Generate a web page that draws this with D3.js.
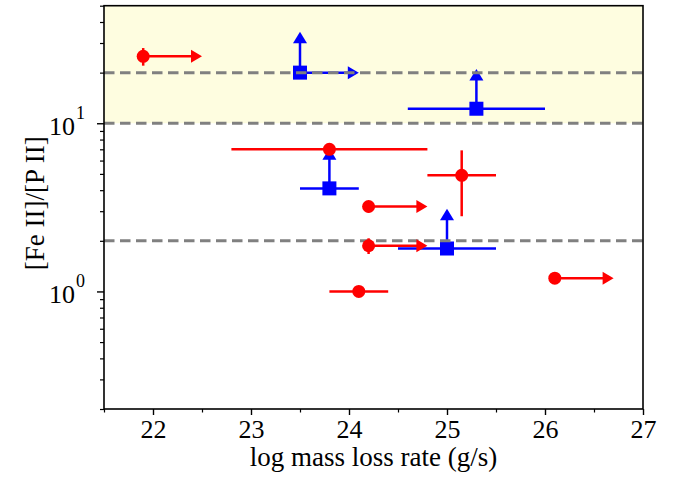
<!DOCTYPE html>
<html><head><meta charset="utf-8">
<script src="https://cdn.jsdelivr.net/npm/d3@7"></script>
<style>body{margin:0;background:#fff}svg{display:block}text{font-family:"Liberation Serif","Times New Roman",serif;fill:#000}</style>
</head><body><svg id="c" width="675" height="487"></svg>
<script>
// ---- data ----
const xTicks = [22, 23, 24, 25, 26, 27];
const xMinor = [21.5, 22.5, 23.5, 24.5, 25.5, 26.5];
const yMajor = [1, 10];
const yMajorExp = ["0", "1"];
const yMinor = [0.2,0.3,0.4,0.5,0.6,0.7,0.8,0.9,2,3,4,5,6,7,8,9,20,30,40,50];
const refLines = [20, 10, 2];
const bandRange = [10, 50];
// red circles
const redX    = [21.9, 23.8, 24.2, 24.2, 24.1, 25.15, 26.1];
const redY    = [25,   7.0,  3.2,  1.87, 1.0,  4.9,  1.2];
const redXerr = [0,    1.0,  0,    0,    0.3,  0.35, 0];
const redYlo  = [22,   7.0,  2.95, 1.67, 1.0,  2.8,  1.2];
const redYhi  = [28,   7.0,  3.45, 2.07, 1.0,  6.9,  1.2];
const redXarrow = [22.5, null, 24.8, 24.8, null, null, 26.7];
// blue squares
const blueX    = [23.5, 23.8, 25.3, 25.0];
const blueY    = [20,   4.1,  12.2, 1.8];
const blueXerr = [0,    0.3,  0.7,  0.5];
const blueXarrow = [24.1, null, null, null];
const blueYarrow = [35,  7.1,  21,   3.1];

// ---- layout ----
const L = 104, R = 643, T = 5.7, B = 409;
const svg = d3.select("#c");
const x = d3.scaleLinear().domain([21.5, 27]).range([L, R]);
const y = d3.scaleLog().domain([0.2, 50]).range([B, T]);

// band
svg.append("rect").attr("x", L).attr("width", R - L)
  .attr("y", y(bandRange[1])).attr("height", y(bandRange[0]) - y(bandRange[1]))
  .attr("fill", "#fefde0");

const red = "#ff0000", blue = "#0000ff";
const lw = 2.5;

function arrowRight(g, xv, yv, col) {
  const tx = x(xv), ty = y(yv);
  g.append("path").attr("d", `M${tx},${ty} L${tx - 11},${ty - 6.5} L${tx - 11},${ty + 6.5} Z`).attr("fill", col);
}
function arrowUp(g, xv, yv, col) {
  const tx = x(xv), ty = y(yv);
  g.append("path").attr("d", `M${tx},${ty} L${tx - 7},${ty + 11.5} L${tx + 7},${ty + 11.5} Z`).attr("fill", col);
}

// blue series
const gb = svg.append("g");
blueX.forEach((xv, i) => {
  const yv = blueY[i];
  if (blueXerr[i] > 0) gb.append("line").attr("x1", x(xv - blueXerr[i])).attr("x2", x(xv + blueXerr[i]))
    .attr("y1", y(yv)).attr("y2", y(yv)).attr("stroke", blue).attr("stroke-width", lw);
  if (blueXarrow[i] != null) {
    gb.append("line").attr("x1", x(xv)).attr("x2", x(blueXarrow[i]) - 5).attr("y1", y(yv)).attr("y2", y(yv))
      .attr("stroke", blue).attr("stroke-width", lw);
    arrowRight(gb, blueXarrow[i], yv, blue);
  }
  if (blueYarrow[i] != null) {
    gb.append("line").attr("x1", x(xv)).attr("x2", x(xv)).attr("y1", y(yv)).attr("y2", y(blueYarrow[i]) + 5)
      .attr("stroke", blue).attr("stroke-width", lw);
    arrowUp(gb, xv, blueYarrow[i], blue);
  }
  gb.append("rect").attr("x", x(xv) - 7).attr("y", y(yv) - 7).attr("width", 14).attr("height", 14).attr("fill", blue);
});

// reference dashed lines
refLines.forEach(v => {
  svg.append("line").attr("x1", L).attr("x2", R).attr("y1", y(v)).attr("y2", y(v))
    .attr("stroke", "#808080").attr("stroke-width", 3).attr("stroke-dasharray", "10.5,5.5");
});

// red series
const gr = svg.append("g");
redX.forEach((xv, i) => {
  const yv = redY[i];
  if (redXerr[i] > 0) gr.append("line").attr("x1", x(xv - redXerr[i])).attr("x2", x(xv + redXerr[i]))
    .attr("y1", y(yv)).attr("y2", y(yv)).attr("stroke", red).attr("stroke-width", lw);
  if (redYhi[i] > redYlo[i]) gr.append("line").attr("x1", x(xv)).attr("x2", x(xv))
    .attr("y1", y(redYlo[i])).attr("y2", y(redYhi[i])).attr("stroke", red).attr("stroke-width", lw);
  if (redXarrow[i] != null) {
    gr.append("line").attr("x1", x(xv)).attr("x2", x(redXarrow[i]) - 5).attr("y1", y(yv)).attr("y2", y(yv))
      .attr("stroke", red).attr("stroke-width", lw);
    arrowRight(gr, redXarrow[i], yv, red);
  }
  gr.append("circle").attr("cx", x(xv)).attr("cy", y(yv)).attr("r", 6.5).attr("fill", red);
});

// frame
svg.append("rect").attr("x", L).attr("y", T).attr("width", R - L).attr("height", B - T)
  .attr("fill", "none").attr("stroke", "#000").attr("stroke-width", 1.6);

// x axis
const xa = svg.append("g").attr("transform", `translate(0,${B})`)
  .call(d3.axisBottom(x).tickValues(xTicks).tickFormat(d3.format("d")).tickSize(6).tickSizeOuter(0));
xa.select(".domain").remove();
xa.selectAll("line").attr("stroke", "#000").attr("stroke-width", 1.4);
xa.selectAll("text").attr("font-size", 26).attr("dy", 0).attr("y", 29).style("font-family", "Liberation Serif");
const xm = svg.append("g").attr("transform", `translate(0,${B})`)
  .call(d3.axisBottom(x).tickValues(xMinor).tickFormat("").tickSize(3.5).tickSizeOuter(0));
xm.select(".domain").remove();
xm.selectAll("line").attr("stroke", "#000").attr("stroke-width", 1.2);

// y axis
const ya = svg.append("g").attr("transform", `translate(${L},0)`)
  .call(d3.axisLeft(y).tickValues(yMajor).tickFormat("").tickSize(7).tickSizeOuter(0));
ya.select(".domain").remove();
ya.selectAll("line").attr("stroke", "#000").attr("stroke-width", 1.4);
const ym = svg.append("g").attr("transform", `translate(${L},0)`)
  .call(d3.axisLeft(y).tickValues(yMinor).tickFormat("").tickSize(4).tickSizeOuter(0));
ym.select(".domain").remove();
ym.selectAll("line").attr("stroke", "#000").attr("stroke-width", 1.2);

yMajor.forEach((v, i) => {
  svg.append("text").attr("x", 75).attr("y", y(v) + 12).attr("text-anchor", "end")
    .attr("font-size", 26).text("10");
  svg.append("text").attr("x", 76).attr("y", y(v) - 4).attr("font-size", 18).text(yMajorExp[i]);
});

// axis titles
svg.append("text").attr("x", (L + R) / 2).attr("y", 466).attr("text-anchor", "middle")
  .attr("font-size", 27).text("log mass loss rate (g/s)");
svg.append("text").attr("transform", `translate(44,${(T + B) / 2 - 4}) rotate(-90)`)
  .attr("text-anchor", "middle").attr("font-size", 27).text("[Fe II]/[P II]");
</script></body></html>
